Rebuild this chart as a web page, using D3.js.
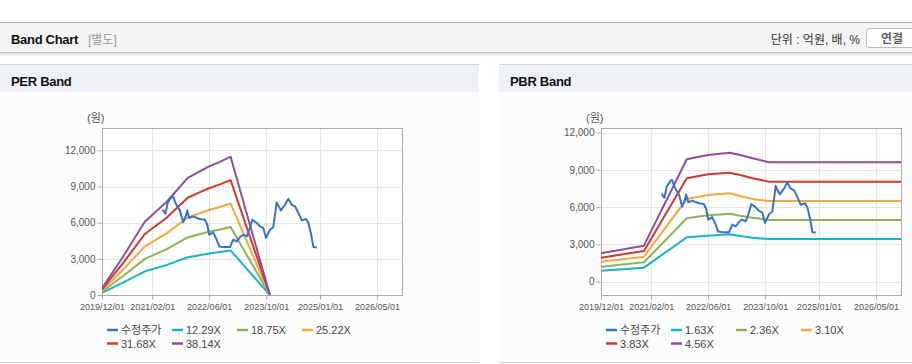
<!DOCTYPE html>
<html>
<head>
<meta charset="utf-8">
<script src="https://cdn.jsdelivr.net/npm/d3@7"></script>
<style>
  body { margin: 0; background: #fff; }
  svg { display: block; font-family: "Liberation Sans", Arial, "Noto Sans CJK KR", sans-serif; }
</style>
</head>
<body>
<div id="chart"></div>
<script>
// ------------------------- data
var tickDates = ["2019/12/01", "2021/02/01", "2022/06/01", "2023/10/01", "2025/01/01", "2026/05/01"];
var yTicks = [0, 3000, 6000, 9000, 12000];

// 수정주가 (same price on both charts)
var priceDates = ["2021-04-30", "2021-05-25", "2021-06-12", "2021-07-16", "2021-07-29", "2021-08-13", "2021-09-02",
    "2021-09-25", "2021-10-23", "2021-11-15", "2021-11-26", "2021-12-13", "2022-01-16", "2022-02-19", "2022-03-14",
    "2022-04-26", "2022-05-16", "2022-06-02", "2022-07-06", "2022-08-04", "2022-08-26", "2022-09-29", "2022-11-26",
    "2022-12-24", "2023-01-22", "2023-02-25", "2023-03-19", "2023-04-17", "2023-05-15", "2023-06-04", "2023-07-12",
    "2023-08-09", "2023-09-06", "2023-09-29", "2023-11-02", "2023-11-30", "2023-12-29", "2024-02-02", "2024-03-09",
    "2024-04-06", "2024-05-05", "2024-06-03", "2024-07-01", "2024-07-30", "2024-09-05", "2024-09-24", "2024-10-15",
    "2024-11-06", "2024-12-05"];
var priceValues = [7080, 6750, 7630, 8130, 8180, 7770, 7350,
    7020, 6030, 6580, 7020, 6390, 6520, 6390, 6310,
    6250, 5830, 5000, 5200, 4590, 4030, 3980, 3980,
    4590, 4450, 4860, 5000, 4860, 5560, 6250, 5980,
    5690, 5560, 4730, 5420, 5640, 7690, 7020, 7490,
    7990, 7490, 7350, 6800, 6190, 6310, 5980, 5150,
    3980, 3950];

// PER band
var perDates = ["2019-12-01", "2020-06-01", "2020-12-01", "2021-06-01", "2021-12-01", "2022-03-01", "2022-06-01", "2022-09-01", "2022-12-01", "2023-11-01"];
var per1229 = [180, 1044, 1965, 2481, 3132, 3286, 3437, 3560, 3699, 0];
var per1875 = [275, 1593, 2999, 3785, 4778, 5014, 5245, 5432, 5643, 0];
var per2522 = [370, 2143, 4034, 5092, 6428, 6745, 7056, 7308, 7592, 0];
var per3168 = [465, 2691, 5067, 6396, 8073, 8472, 8862, 9178, 9535, 0];
var per3814 = [560, 3240, 6100, 7700, 9720, 10200, 10670, 11050, 11480, 0];
var perLabels = ["수정주가", "12.29X", "18.75X", "25.22X", "31.68X", "38.14X"];

// PBR band
var pbrDates = ["2019-12-01", "2020-12-01", "2021-12-01", "2022-06-01", "2022-12-01", "2023-03-01", "2023-06-15", "2023-11-01", "2026-12-01"];
var pbr163 = [885, 1130, 3570, 3700, 3810, 3680, 3540, 3430, 3430];
var pbr236 = [1210, 1560, 5100, 5340, 5470, 5310, 5150, 4960, 4960];
var pbr310 = [1610, 2010, 6650, 6980, 7110, 6900, 6650, 6490, 6490];
var pbr383 = [1930, 2470, 8320, 8640, 8770, 8580, 8320, 8050, 8050];
var pbr456 = [2280, 2900, 9850, 10190, 10380, 10190, 9930, 9610, 9610];
var pbrLabels = ["수정주가", "1.63X", "2.36X", "3.10X", "3.83X", "4.56X"];

var colors = ["#3574c6", "#19b3c6", "#8db25a", "#f4a938", "#d2382c", "#8d4f9e"];

var parseDash = d3.timeParse("%Y-%m-%d");
var parseSlash = d3.timeParse("%Y/%m/%d");

function toPoints(dates, values) {
    return dates.map(function(d, i) { return { date: parseDash(d), value: values[i] }; });
}

var svg = d3.select("#chart").append("svg")
    .attr("width", 912)
    .attr("height", 364);

// ------------------------- page frame
function drawFrame() {
    var defs = svg.append("defs");
    var grad = defs.append("linearGradient").attr("id", "shadow").attr("x1", 0).attr("y1", 0).attr("x2", 0).attr("y2", 1);
    grad.append("stop").attr("offset", "0%").attr("stop-color", "#000").attr("stop-opacity", 0.12);
    grad.append("stop").attr("offset", "100%").attr("stop-color", "#000").attr("stop-opacity", 0);

    svg.append("rect").attr("x", 0).attr("y", 22).attr("width", 912).attr("height", 31).attr("fill", "#f4f4f4");
    svg.append("line").attr("x1", 0).attr("x2", 912).attr("y1", 22.5).attr("y2", 22.5).attr("stroke", "#b2b2b2");
    svg.append("line").attr("x1", 0).attr("x2", 912).attr("y1", 52.5).attr("y2", 52.5).attr("stroke", "#c4c4c4");
    svg.append("rect").attr("x", 0).attr("y", 53).attr("width", 912).attr("height", 4).attr("fill", "url(#shadow)");

    svg.append("text").attr("x", 11).attr("y", 43.5)
        .style("font-size", "13px").style("font-weight", "bold").style("letter-spacing", "-0.3px")
        .attr("fill", "#111").text("Band Chart");
    svg.append("text").attr("x", 88).attr("y", 43.5)
        .style("font-size", "12px").attr("fill", "#999").text("[별도]");
    svg.append("text").attr("x", 860).attr("y", 43.5).attr("text-anchor", "end")
        .style("font-size", "12px").attr("fill", "#333").text("단위 : 억원, 배, %");
    svg.append("rect").attr("x", 866.5).attr("y", 28.5).attr("width", 60).attr("height", 19).attr("rx", 3)
        .attr("fill", "#fff").attr("stroke", "#bdbdbd");
    svg.append("text").attr("x", 892).attr("y", 42.5).attr("text-anchor", "middle")
        .style("font-size", "12px").style("font-weight", "bold").attr("fill", "#666").text("연결");

    // two panels
    [[0, 479, "PER Band"], [499, 413, "PBR Band"]].forEach(function(p) {
        svg.append("rect").attr("x", p[0]).attr("y", 64).attr("width", p[1]).attr("height", 298).attr("fill", "#fcfcfc");
        svg.append("rect").attr("x", p[0]).attr("y", 64).attr("width", p[1]).attr("height", 28).attr("fill", "#eef2f7");
        svg.append("line").attr("x1", p[0]).attr("x2", p[0] + p[1]).attr("y1", 64.5).attr("y2", 64.5).attr("stroke", "#d2d2d2");
        svg.append("line").attr("x1", p[0]).attr("x2", p[0] + p[1]).attr("y1", 362.5).attr("y2", 362.5).attr("stroke", "#d2d2d2");
        svg.append("text").attr("x", p[0] + 11).attr("y", 85.5)
            .style("font-size", "13px").style("font-weight", "bold").style("letter-spacing", "-0.3px")
            .attr("fill", "#111").text(p[2]);
    });
}

// ------------------------- one band chart
function drawBand(cfg) {
    var top = 128, bottom = 295, width = 300;
    var g = svg.append("g");

    var x = d3.scaleTime()
        .domain([parseDash("2019-12-01"), parseDash("2026-12-01")])
        .range([cfg.left, cfg.left + width]);
    var y = d3.scaleLinear()
        .domain(cfg.yDomain)
        .range([bottom, top]);
    var ticks = tickDates.map(function(d) { return parseSlash(d); });

    g.append("rect").attr("x", cfg.left).attr("y", top).attr("width", width).attr("height", bottom - top).attr("fill", "#fff");

    // grid
    g.selectAll(".vgrid").data(ticks).enter().append("line")
        .attr("x1", function(d) { return Math.round(x(d)) + 0.5; })
        .attr("x2", function(d) { return Math.round(x(d)) + 0.5; })
        .attr("y1", top).attr("y2", bottom)
        .attr("stroke", "#e6e6e6");
    g.selectAll(".hgrid").data(yTicks).enter().append("line")
        .attr("x1", cfg.left).attr("x2", cfg.left + width)
        .attr("y1", function(d) { return Math.round(y(d)) + 0.5; })
        .attr("y2", function(d) { return Math.round(y(d)) + 0.5; })
        .attr("stroke", "#e6e6e6");

    // axes
    var yAxis = g.append("g")
        .attr("transform", "translate(" + (cfg.left + 0.5) + ",0)")
        .call(d3.axisLeft(y).tickValues(yTicks).tickSize(5).tickPadding(2).tickFormat(d3.format(",")));
    var xAxis = g.append("g")
        .attr("transform", "translate(0," + (bottom + 0.5) + ")")
        .call(d3.axisBottom(x).tickValues(ticks).tickSize(4).tickPadding(4).tickFormat(d3.timeFormat("%Y/%m/%d")));
    [yAxis, xAxis].forEach(function(a) {
        a.select(".domain").remove();
        a.selectAll("line").attr("stroke", "#aaa");
        a.selectAll("text").attr("fill", "#555").style("font-family", null);
    });
    yAxis.style("font-size", "10px");
    xAxis.style("font-size", "9px");

    g.append("rect").attr("x", cfg.left + 0.5).attr("y", top + 0.5).attr("width", width).attr("height", bottom - top)
        .attr("fill", "none").attr("stroke", "#ababab");

    g.append("text").attr("x", cfg.left - 15).attr("y", 121.5)
        .style("font-size", "11px").attr("fill", "#555").text("(원)");

    // lines
    var clipId = "clip" + cfg.left;
    svg.select("defs").append("clipPath").attr("id", clipId)
        .append("rect").attr("x", cfg.left).attr("y", top).attr("width", width + 1).attr("height", bottom - top + 1);

    var line = d3.line()
        .x(function(d) { return x(d.date); })
        .y(function(d) { return y(d.value); });

    var series = cfg.bands.map(function(b) { return toPoints(cfg.bandDates, b); });
    series.push(toPoints(priceDates, priceValues)); // price drawn on top

    g.append("g").attr("clip-path", "url(#" + clipId + ")")
        .selectAll("path")
        .data(series)
        .enter()
        .append("path")
        .attr("d", line)
        .attr("fill", "none")
        .attr("stroke", function(d, i) { return i === series.length - 1 ? colors[0] : colors[i + 1]; })
        .attr("stroke-width", 2)
        .attr("stroke-linejoin", "round");

    // legend
    var item = g.selectAll(".legend")
        .data(cfg.labels)
        .enter()
        .append("g")
        .attr("transform", function(d, i) {
            return "translate(" + (cfg.left + 5 + (i % 4) * 65) + "," + (330 + Math.floor(i / 4) * 13.5) + ")";
        });
    item.append("line")
        .attr("x1", 0).attr("x2", 11).attr("y1", 0).attr("y2", 0)
        .attr("stroke", function(d, i) { return colors[i]; })
        .attr("stroke-width", 2.5);
    item.append("text")
        .attr("x", i => 0).attr("dx", 14).attr("y", 4)
        .style("font-size", "11px").attr("fill", "#444")
        .text(function(d) { return d; });
}

drawFrame();
drawBand({ left: 102, yDomain: [0, 13860], bandDates: perDates,
    bands: [per1229, per1875, per2522, per3168, per3814], labels: perLabels });
drawBand({ left: 601, yDomain: [-1070, 12365], bandDates: pbrDates,
    bands: [pbr163, pbr236, pbr310, pbr383, pbr456], labels: pbrLabels });
</script>
</body>
</html>
